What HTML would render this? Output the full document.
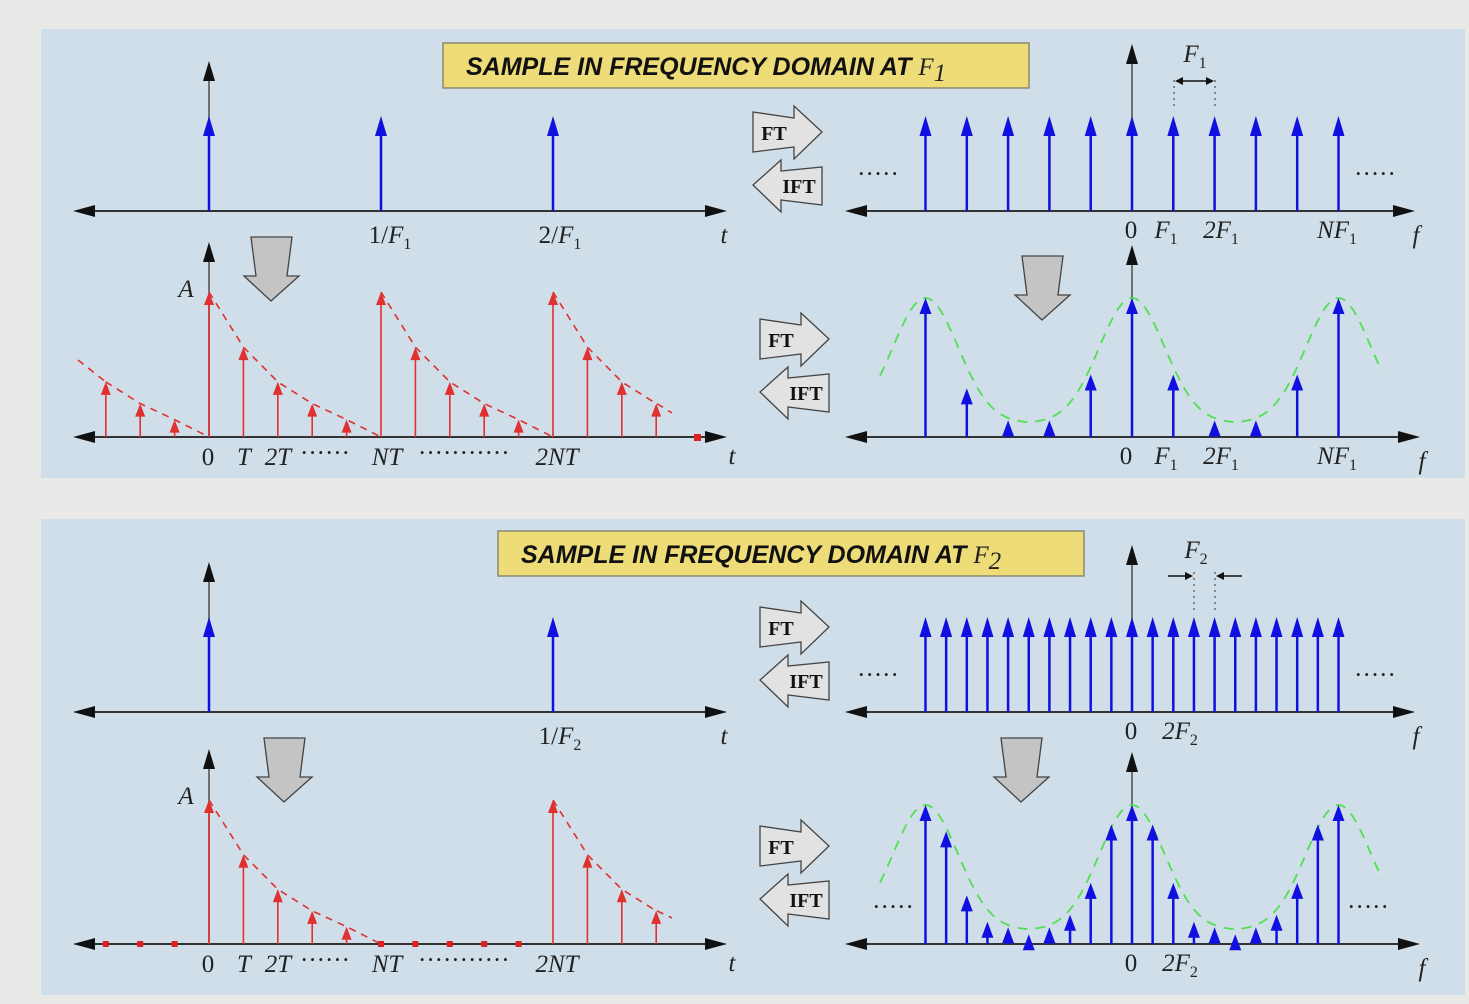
<!DOCTYPE html>
<html><head><meta charset="utf-8"><style>
html,body{margin:0;padding:0;background:#e9e9e7;}
svg{display:block;}
.m{font-family:"Liberation Serif",serif;font-style:italic;font-size:25px;fill:#222;}
.n{font-family:"Liberation Serif",serif;font-size:25px;fill:#222;}
.ttl{font-family:"Liberation Sans",sans-serif;font-weight:bold;font-style:italic;font-size:25px;fill:#111;}
.ab{font-family:"Liberation Serif",serif;font-weight:bold;font-size:20px;fill:#111;}
</style></head><body>
<svg id="s" width="1469" height="1004" viewBox="0 0 1469 1004" xmlns="http://www.w3.org/2000/svg">
<rect x="0" y="0" width="1469" height="1004" fill="#e9e9e7"/>
<rect x="41" y="29" width="1424" height="449" fill="#cfdee8"/>
<rect x="41" y="519" width="1424" height="476" fill="#cfdee8"/>
<g>
<rect x="443" y="43" width="586" height="45" fill="#eddc78" stroke="#8a8a70" stroke-width="1.5"/>
<text x="466" y="75" class="ttl">SAMPLE IN FREQUENCY DOMAIN  AT <tspan class="m" font-size="28" style="font-weight:normal">F</tspan><tspan class="m" font-size="17" dy="6" style="font-weight:normal">1</tspan></text>
</g>
<g>
<rect x="498" y="531" width="586" height="45" fill="#eddc78" stroke="#8a8a70" stroke-width="1.5"/>
<text x="521" y="563" class="ttl">SAMPLE IN FREQUENCY DOMAIN  AT <tspan class="m" font-size="28" style="font-weight:normal">F</tspan><tspan class="m" font-size="17" dy="6" style="font-weight:normal">2</tspan></text>
</g>
<g id="g"></g>
</svg>
<script>
// ---- data ----
const impulseTimesF1 = [0, 1, 2];          // multiples of 1/F1
const impulseTimesF2 = [0, 1];             // multiples of 1/F2
const decaySamples = [1, 0.62, 0.38, 0.23, 0.12];   // x[n]/A, n = 0..4
const periodN1 = 5;                        // N samples per period (F1)
const periodN2 = 10;                       // samples per period (F2)
const specK1 = [-5,-4,-3,-2,-1,0,1,2,3,4,5];
const specH1 = [1,0.35,0.12,0.12,0.45,1,0.45,0.12,0.12,0.45,1];
const specK2 = [-10,-9,-8,-7,-6,-5,-4,-3,-2,-1,0,1,2,3,4,5,6,7,8,9,10];
const specH2 = [1,0.81,0.35,0.16,0.12,0.07,0.12,0.21,0.44,0.86,1,0.86,0.44,0.16,0.12,0.07,0.12,0.21,0.44,0.86,1];
const lineK1 = [-5,-4,-3,-2,-1,0,1,2,3,4,5];
const lineK2 = [-10,-9,-8,-7,-6,-5,-4,-3,-2,-1,0,1,2,3,4,5,6,7,8,9,10];

const NS = "http://www.w3.org/2000/svg";
const G = document.getElementById('g');
function mk(tag, attrs, parent){
  const e = document.createElementNS(NS, tag);
  for (const k in attrs) e.setAttribute(k, attrs[k]);
  (parent||G).appendChild(e); return e;
}
function grp(name){
  const g = mk('g', {});
  
  
  return g;
}
function stem(p, x, y0, y1, col, w, hw, hl){
  mk('line',{x1:x,y1:y0,x2:x,y2:y1+hl-2,stroke:col,'stroke-width':w},p);
  mk('polygon',{points:`${x},${y1} ${x-hw},${y1+hl} ${x+hw},${y1+hl}`,fill:col},p);
}
function hAxis(p,x0,x1,y){
  mk('line',{x1:x0+10,y1:y,x2:x1-10,y2:y,stroke:'#333','stroke-width':2},p);
  mk('polygon',{points:`${x0},${y} ${x0+22},${y-6} ${x0+22},${y+6}`,fill:'#111'},p);
  mk('polygon',{points:`${x1},${y} ${x1-22},${y-6} ${x1-22},${y+6}`,fill:'#111'},p);
}
function vAxis(p,x,y0,y1){
  mk('line',{x1:x,y1:y0,x2:x,y2:y1+10,stroke:'#555','stroke-width':1.6},p);
  mk('polygon',{points:`${x},${y1} ${x-6},${y1+20} ${x+6},${y1+20}`,fill:'#111'},p);
}
function txt(p,x,y,s,cls,anchor){
  const t = mk('text',{x:x,y:y,class:cls||'m','text-anchor':anchor||'middle'},p);
  t.innerHTML = s; return t;
}
const sub = d => `<tspan font-size="16" dy="6" font-style="normal">${d}</tspan>`;
const itF = '<tspan font-style="italic">F</tspan>';

// ---- time-domain impulse trains ----
function impulsePlot(name, axisY, times, period){
  const p = grp(name);
  const tx = v => 209 + v*period;
  hAxis(p,73,727,axisY); vAxis(p,209,axisY,axisY-150);
  times.forEach(v=>{ stem(p, tx(v), axisY, axisY-95, '#1010e0', 2.5, 6, 20); });
  return p;
}
const p1 = impulsePlot('impulse-train-f1', 211, impulseTimesF1, 172);
txt(p1,390,243,'1/'+itF+sub(1),'n'); txt(p1,560,243,'2/'+itF+sub(1),'n');
txt(p1,724,243,'t');
const p3 = impulsePlot('impulse-train-f2', 712, impulseTimesF2, 344);
txt(p3,560,744,'1/'+itF+sub(2),'n'); txt(p3,724,744,'t');

// ---- sampled decaying sequence ----
function sampledPlot(name, axisY, N, ampPx){
  const p = grp(name);
  const T = 34.4;
  const tx = n => 209 + n*T;
  const amp = n => { const m = ((n % N)+N)%N; return m < decaySamples.length ? decaySamples[m] : 0; };
  hAxis(p,73,727,axisY); vAxis(p,209,axisY,axisY-195);
  const L = decaySamples.length;
  for (let per=-1; per<=2; per++){
    let d='';
    for (let m=0; m<=L; m++){
      const n = per*N + m;
      const x = tx(n); if (x<78 || x>672) continue;
      const a = m<L ? decaySamples[m] : 0;
      d += (d?'L':'M')+x.toFixed(1)+','+(axisY-a*ampPx).toFixed(1);
    }
    if (d.indexOf('L')>0) mk('path',{d:d,fill:'none',stroke:'#e03030','stroke-width':1.6,'stroke-dasharray':'7,6'},p);
  }
  if (N===periodN1){
    mk('line',{x1:78,y1:axisY-77,x2:tx(-N+2),y2:axisY-decaySamples[2]*ampPx,stroke:'#e03030','stroke-width':1.6,'stroke-dasharray':'7,6'},p);
  }
  for (let n=-3; n<=13; n++){
    const x = tx(n); if (x>670) break;
    const a = amp(n);
    if (a>0) stem(p, x, axisY, axisY-a*ampPx, '#e03030', 1.6, 5, 13);
    else mk('rect',{x:x-3,y:axisY-3,width:6,height:6,fill:'#e02020'},p);
  }
  txt(p,186,axisY-140,'A');
  txt(p,208,axisY+28,'0','n'); txt(p,244,axisY+28,'T'); txt(p,278,axisY+28,'2T');
  txt(p,300,axisY+24,'······','n','start'); txt(p,387,axisY+28,'NT');
  txt(p,418,axisY+24,'···········','n','start'); txt(p,557,axisY+28,'2NT');
  txt(p,732,axisY+27,'t');
  return p;
}
const p2 = sampledPlot('sampled-sequence-f1', 437, periodN1, 145);
mk('line',{x1:657,y1:437-decaySamples[3]*145,x2:672,y2:413,stroke:'#e03030','stroke-width':1.6,'stroke-dasharray':'7,6'},p2);
mk('rect',{x:694,y:434,width:7,height:7,fill:'#e02020'},p2);
const p4 = sampledPlot('sampled-sequence-f2', 944, periodN2, 144);
mk('line',{x1:657,y1:944-decaySamples[3]*144,x2:672,y2:918,stroke:'#e03030','stroke-width':1.6,'stroke-dasharray':'7,6'},p4);

// ---- spectra ----
function lineSpec(name, axisY, ks, spacing){
  const p = grp(name);
  const fx = k => 1132 + k*spacing;
  hAxis(p,845,1415,axisY); vAxis(p,1132,axisY,axisY-167);
  ks.forEach(k=> stem(p, fx(k), axisY, axisY-95, '#1010e0', 2.5, 6, 20));
  txt(p,878,axisY-29,'·····','n').setAttribute('fill','#2020e0');
  txt(p,1375,axisY-29,'·····','n').setAttribute('fill','#2020e0');
  return p;
}
const q1 = lineSpec('line-spectrum-f1', 211, lineK1, 41.3);
txt(q1,1131,238,'0','n'); txt(q1,1166,238,'F'+sub(1)); txt(q1,1221,238,'2F'+sub(1));
txt(q1,1337,238,'NF'+sub(1)); txt(q1,1416,243,'f');
mk('line',{x1:1174,y1:80,x2:1174,y2:110,stroke:'#333','stroke-dasharray':'2,4'},q1);
mk('line',{x1:1215,y1:80,x2:1215,y2:110,stroke:'#333','stroke-dasharray':'2,4'},q1);
mk('line',{x1:1180,y1:81,x2:1209,y2:81,stroke:'#111','stroke-width':1.5},q1);
mk('polygon',{points:'1175,81 1183,77 1183,85',fill:'#111'},q1);
mk('polygon',{points:'1214,81 1206,77 1206,85',fill:'#111'},q1);
txt(q1,1195,62,'F'+sub(1));
const q3 = lineSpec('line-spectrum-f2', 712, lineK2, 20.65);
txt(q3,1131,739,'0','n'); txt(q3,1180,739,'2F'+sub(2)); txt(q3,1416,744,'f');
mk('line',{x1:1194,y1:572,x2:1194,y2:610,stroke:'#333','stroke-dasharray':'2,4'},q3);
mk('line',{x1:1215,y1:572,x2:1215,y2:610,stroke:'#333','stroke-dasharray':'2,4'},q3);
mk('line',{x1:1168,y1:576,x2:1188,y2:576,stroke:'#111','stroke-width':1.5},q3);
mk('polygon',{points:'1193,576 1185,572 1185,580',fill:'#111'},q3);
mk('line',{x1:1221,y1:576,x2:1242,y2:576,stroke:'#111','stroke-width':1.5},q3);
mk('polygon',{points:'1216,576 1224,572 1224,580',fill:'#111'},q3);
txt(q3,1196,558,'F'+sub(2));

function envSpec(name, axisY, ks, hs, spacing, N, dots){
  const p = grp(name);
  const fx = k => 1132 + k*spacing;
  const H = 139;
  hAxis(p,845,1420,axisY); vAxis(p,1132,axisY,axisY-192);
  const per = N*spacing;
  const env = x => { let d = (x-1132)/per; d = d - Math.round(d);
    return 0.1 + 0.9*Math.exp(-(d*d)/0.05); };
  let d='';
  for (let x=880; x<=1383; x+=2) d += (d?'L':'M')+x+','+(axisY-env(x)*H).toFixed(1);
  mk('path',{d:d,fill:'none',stroke:'#50e050','stroke-width':1.8,'stroke-dasharray':'10,8'},p);
  ks.forEach((k,i)=> stem(p, fx(k), axisY, axisY-hs[i]*H, '#1010e0', 2.5, 6, 16));
  if (dots){
    txt(p,893,axisY-29,'·····','n').setAttribute('fill','#2020e0');
    txt(p,1368,axisY-29,'·····','n').setAttribute('fill','#2020e0');
  }
  return p;
}
const q2 = envSpec('sampled-spectrum-f1', 437, specK1, specH1, 41.3, 5, false);
txt(q2,1126,464,'0','n'); txt(q2,1166,464,'F'+sub(1)); txt(q2,1221,464,'2F'+sub(1));
txt(q2,1337,464,'NF'+sub(1)); txt(q2,1422,469,'f');
const q4 = envSpec('sampled-spectrum-f2', 944, specK2, specH2, 20.65, 10, true);
txt(q4,1131,971,'0','n'); txt(q4,1180,971,'2F'+sub(2)); txt(q4,1422,976,'f');

// ---- FT / IFT arrows ----
function ftPair(x, y){
  const g1 = mk('g',{transform:`translate(${x},${y})`});
  
  
  mk('polygon',{points:'0,4 41,10 41,-2 69,24 41,51 41,39 0,44',fill:'#e2e2e2',stroke:'#444','stroke-width':1.3},g1);
  txt(g1,21,32,'FT','ab');
  const g2 = mk('g',{transform:`translate(${x},${y+53})`});
  
  
  mk('polygon',{points:'0,24 28,-1 28,10 69,6 69,44 28,39 28,51',fill:'#e2e2e2',stroke:'#444','stroke-width':1.3},g2);
  txt(g2,46,32,'IFT','ab');
}
ftPair(753,108); ftPair(760,315); ftPair(760,603); ftPair(760,822);

function downArrow(x, y){
  const g = mk('g',{transform:`translate(${x},${y})`});
  
  
  mk('polygon',{points:'7,0 48,0 43,39 55,39 27,64 0,39 12,39',fill:'#c4c4c4',stroke:'#444','stroke-width':1.3},g);
}
downArrow(244,237); downArrow(1015,256); downArrow(257,738); downArrow(994,738);
</script>
</body></html>
